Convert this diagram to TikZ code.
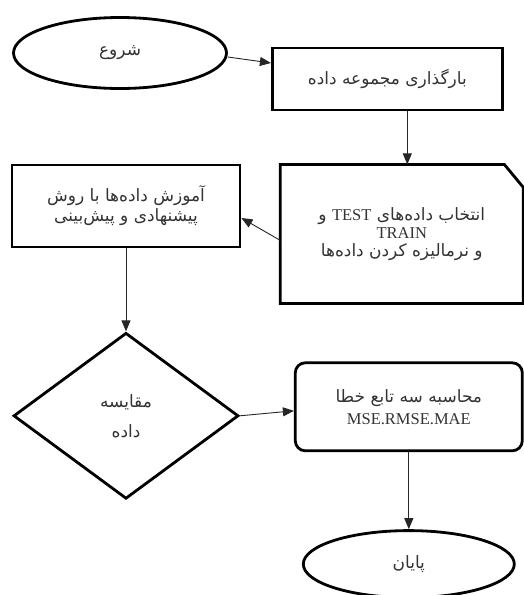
\documentclass[tikz,border=0pt]{standalone}
\usepackage{fontspec}
\setmainfont{Liberation Serif}
\newfontfamily\farsi[Script=Arabic,Scale=1.03]{DejaVu Sans}
\TeXXeTstate=1
\usetikzlibrary{positioning,shapes.geometric,arrows.meta}
\newcommand{\shapeline}{2.8pt}
\newcommand{\linkline}{0.9pt}
\newcommand{\chamferx}{19pt}
\newcommand{\chamfery}{23pt}
\newcommand{\fatxt}[1]{{\farsi\beginR #1\endR}}
\tikzstyle{terminal}=[fill=none,text=black!80,draw=black,shape=ellipse,
                      line width=\shapeline,minimum width=213pt,minimum height=71pt]
\tikzstyle{process}=[fill=none,text=black!80,draw=black,shape=rectangle,
                     line width=\shapeline,align=center]
\tikzstyle{document}=[fill=none,text=black!80,draw=none,shape=rectangle,outer sep=0pt,
                      align=center,minimum width=243pt,minimum height=139pt]
\tikzstyle{decision}=[fill=none,text=black!80,draw=black,shape=diamond,
                      line width=\shapeline,align=center,minimum width=225pt,minimum height=166pt]
\tikzstyle{link}=[->,draw=black!85,line width=\linkline]

\begin{document}
\begin{tikzpicture}[>={Triangle[length=11pt,width=9pt]},font=\fontsize{16.5}{18}\selectfont]
\useasboundingbox (0,0) rectangle (523pt,-595pt);

\node [terminal] (start) at (120pt,-53pt) {\fatxt{شروع}};
\node [process, right= 43pt of start, yshift=-26pt, minimum width=230pt, minimum height=62pt]
      (load) {\fatxt{بارگذاری مجموعه داده}};

\node [document, below= 53pt of load, xshift=14.5pt] (select)
      {\fatxt{انتخاب داده‌های \beginL{\rmfamily TEST}\endL{} و}\\ TRAIN\\ \fatxt{و نرمالیزه کردن داده‌ها}};
\draw [line width=\shapeline] (select.north west) -- ([xshift=-\chamferx]select.north east)
      -- ([yshift=-\chamfery]select.north east) -- (select.south east) -- (select.south west) -- cycle;

\node [process, minimum width=228pt, minimum height=82pt] (train) at (126pt,-206pt)
      {\fatxt{آموزش داده‌ها با روش}\\[2pt] \fatxt{پیشنهادی و پیش‌بینی}};

\node [decision, below= 83pt of train] (compare) {\fatxt{مقایسه}\\[12pt] \fatxt{داده}};

\node [process, rounded corners=10pt, below= 58pt of select, xshift=7pt,
       minimum width=227pt, minimum height=88pt] (errors)
      {\fatxt{محاسبه سه تابع خطا}\\[4pt] MSE.RMSE.MAE};

\node [terminal, below= 77pt of errors, minimum width=211pt, minimum height=67pt] (stop) {\fatxt{پایان}};

\draw [link] ([yshift=-4pt]start.east) -- ([yshift=16pt]load.west);
\draw [link] ([xshift=20pt]load.south) -- ([xshift=5.5pt]select.north);
\draw [link] ([yshift=-6.5pt]select.west) -- ([yshift=-12pt]train.east);
\draw [link] (train.south) -- (compare.north);
\draw [link] (compare.east) -- ([yshift=-4pt]errors.west);
\draw [link] (errors.south) -- (stop.north);
\end{tikzpicture}
\end{document}
